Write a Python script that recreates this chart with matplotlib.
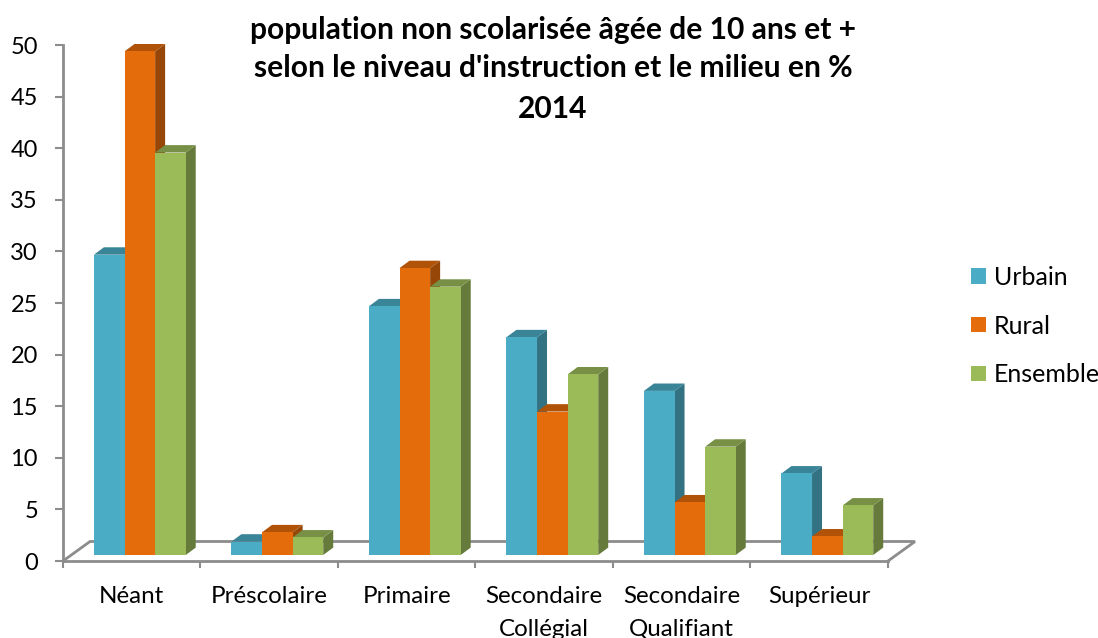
import numpy as np
import matplotlib
matplotlib.use("Agg")
import matplotlib.pyplot as plt
from matplotlib.colors import to_rgb
from matplotlib.patches import Polygon

plt.rcParams.update({"font.family": ["Lato", "DejaVu Sans"], "font.size": 17})

categories = ["Néant", "Préscolaire", "Primaire", "Secondaire\nCollégial",
              "Secondaire\nQualifiant", "Supérieur"]
series_names = ["Urbain", "Rural", "Ensemble"]
urbain = [29.1, 1.3, 24.1, 21.1, 15.9, 7.9]
rural = [48.8, 2.2, 27.8, 13.9, 5.1, 1.8]
ensemble = [39.0, 1.7, 26.0, 17.5, 10.5, 4.8]
colors = ["#4BACC6", "#E46C0A", "#9BBB59"]
y_ticks = list(range(0, 51, 5))

GREY = "#8C8C8C"
W, H = 1098, 638
# plot box in pixels
LEFT, RIGHT, BOTTOM, TOP = 63, 888, 561, 45
# fake 3D depth and floor, in axis units
DX, DY = 10 / 137.5, 7.4 / 10.32
BASE = 6 / 10.32
FLOOR_DX, FLOOR_DY = 27 / 137.5, 19.5 / 10.32
BAR_W = 0.2225
BAR_START = 0.225
TITLE_SIZE = 21.6


def shade(color, k):
    return tuple(c * k for c in to_rgb(color))


def main():
    fig = plt.figure(figsize=(W / 100, H / 100), dpi=100, facecolor="white")
    ax = fig.add_axes([LEFT / W, (H - BOTTOM) / H, (RIGHT - LEFT) / W, (BOTTOM - TOP) / H])
    ax.set_xlim(0, len(categories))
    ax.set_ylim(0, 50)

    for side in ["top", "right"]:
        ax.spines[side].set_visible(False)
    for side in ["left", "bottom"]:
        ax.spines[side].set_color(GREY)
        ax.spines[side].set_linewidth(2)

    ax.set_yticks(y_ticks)
    ax.tick_params(axis="y", length=6, width=1.5, color=GREY, pad=12, labelsize=17)
    ax.set_xticks(range(len(categories) + 1))
    ax.set_xticklabels([])
    ax.tick_params(axis="x", which="major", length=5, width=1.5, color=GREY)
    ax.set_xticks(np.arange(len(categories)) + 0.5, minor=True)
    ax.set_xticklabels(categories, minor=True, linespacing=1.68)
    ax.tick_params(axis="x", which="minor", length=0, pad=18, labelsize=17.4)

    # floor outline behind the bars
    n = len(categories)
    ax.plot([0, FLOOR_DX, n + FLOOR_DX, n], [0, FLOOR_DY, FLOOR_DY, 0],
            color=GREY, lw=2, clip_on=False, zorder=1, solid_joinstyle="miter")

    zorder = 2
    for j, (name, color) in enumerate(zip(series_names, colors)):
        xs = np.arange(n) + BAR_START + j * BAR_W
        ax.bar(xs, [0] * n, BAR_W, align="edge", color=color, label=name)

    for i in range(n):
        for j, vals in enumerate([urbain, rural, ensemble]):
            x0 = i + BAR_START + j * BAR_W
            x1 = x0 + BAR_W
            y0 = BASE
            y1 = BASE + vals[i]
            color = colors[j]
            side_face = Polygon([(x1, y0), (x1 + DX, y0 + DY), (x1 + DX, y1 + DY), (x1, y1)],
                                color=shade(color, 0.66), lw=0, clip_on=False, zorder=zorder)
            top_face = Polygon([(x0, y1), (x0 + DX, y1 + DY), (x1 + DX, y1 + DY), (x1, y1)],
                               color=shade(color, 0.77), lw=0, clip_on=False, zorder=zorder)
            ax.add_patch(side_face)
            ax.add_patch(top_face)
            ax.bar(x0, vals[i], BAR_W, bottom=BASE, align="edge", color=color,
                   lw=0, clip_on=False, zorder=zorder + 0.5)
            zorder += 1

    fig.text(553 / W, 1 - 30 / H, "population non scolarisée âgée de 10 ans et +",
             ha="center", va="center", fontsize=TITLE_SIZE, fontweight="bold")
    fig.text(553 / W, 1 - 68 / H, "selon le niveau d'instruction et le milieu en %",
             ha="center", va="center", fontsize=TITLE_SIZE, fontweight="bold")
    fig.text(553 / W, 1 - 109 / H, "2014",
             ha="center", va="center", fontsize=TITLE_SIZE, fontweight="bold")

    ax.legend(loc="center left", bbox_to_anchor=(971 / W, 1 - 326 / H),
              bbox_transform=fig.transFigure, frameon=False, fontsize=18,
              handlelength=0.6, handleheight=0.57, handletextpad=0.32, labelspacing=1.03,
              borderpad=0, borderaxespad=0)

    fig.savefig("out.png", dpi=100, facecolor="white")
    plt.close(fig)


if __name__ == "__main__":
    main()
